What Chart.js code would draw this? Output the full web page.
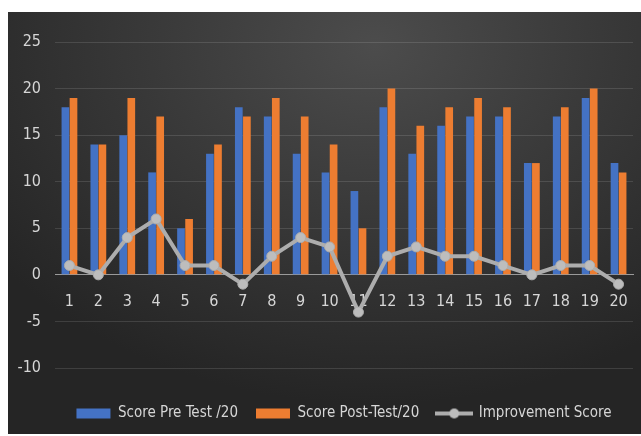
<!DOCTYPE html>
<html>
<head>
  <title>Score Pre / Post Test</title>
  <script src="https://cdn.jsdelivr.net/npm/chart.js"></script>
  <style>
    body { margin: 0; background: #fff; }
    #wrap {
      position: absolute; left: 8px; top: 12px; width: 633px; height: 422px;
      background: radial-gradient(ellipse 75% 85% at 58% 8%, #4c4c4c 0%, #3a3a3a 45%, #252525 100%);
    }
  </style>
</head>
<body>
  <div id="wrap"><canvas id="grafico"></canvas></div>

  <script>
    // dados
    const alunos = ['1','2','3','4','5','6','7','8','9','10','11','12','13','14','15','16','17','18','19','20'];
    const notaPre = [18, 14, 15, 11, 5, 13, 18, 17, 13, 11, 9, 18, 13, 16, 17, 17, 12, 17, 19, 12];
    const notaPos = [19, 14, 19, 17, 6, 14, 17, 19, 17, 14, 5, 20, 16, 18, 19, 18, 12, 18, 20, 11];
    const melhoria = [1, 0, 4, 6, 1, 1, -1, 2, 4, 3, -4, 2, 3, 2, 2, 1, 0, 1, 1, -1];
    const marcasY = [-10, -5, 0, 5, 10, 15, 20, 25];

    // fonte estreita (condensada)
    const fonte = "'DejaVu Sans Condensed', 'DejaVu Sans', sans-serif";
    const estilo = 'condensed';
    const corTexto = '#d6d6d6';
    const cinza = '#adadad';

    // ícone da legenda da linha (linha com marcador)
    const iconeLinha = document.createElement('canvas');
    iconeLinha.width = 38; iconeLinha.height = 12;
    const ic = iconeLinha.getContext('2d');
    ic.strokeStyle = cinza; ic.lineWidth = 4;
    ic.beginPath(); ic.moveTo(0, 6); ic.lineTo(38, 6); ic.stroke();
    ic.fillStyle = '#bdbdbd';
    ic.beginPath(); ic.arc(19, 6, 5, 0, Math.PI * 2); ic.fill();

    const ctx = document.getElementById('grafico').getContext('2d');
    new Chart(ctx, {
      data: {
        labels: alunos,
        datasets: [
          {
            type: 'line',
            label: 'Improvement Score',
            data: melhoria,
            borderColor: cinza,
            borderWidth: 4,
            pointRadius: 5,
            pointBackgroundColor: '#bdbdbd',
            pointBorderColor: cinza,
            pointBorderWidth: 1,
            tension: 0,
            order: 0,
          },
          {
            type: 'bar',
            label: 'Score Pre Test /20',
            data: notaPre,
            backgroundColor: '#4472c4',
            categoryPercentage: 0.56,
            barPercentage: 0.95,
            order: 1,
          },
          {
            type: 'bar',
            label: 'Score Post-Test/20',
            data: notaPos,
            backgroundColor: '#ed7d31',
            categoryPercentage: 0.56,
            barPercentage: 0.95,
            order: 1,
          },
        ],
      },
      options: {
        responsive: true,
        maintainAspectRatio: false,
        animation: false,
        layout: { padding: { top: 30, right: 8, bottom: 3, left: 0 } },
        scales: {
          x: {
            position: { y: 0 },
            grid: { display: false },
            border: { display: true, color: '#9a9a9a', width: 1 },
            ticks: { color: corTexto, font: { family: fonte, size: 16, style: estilo }, padding: 9 },
          },
          y: {
            min: -10,
            max: 25,
            afterBuildTicks: (eixo) => { eixo.ticks = marcasY.map(v => ({ value: v })); },
            afterFit: (eixo) => { eixo.width = 47; },
            grid: {
              color: (c) => c.tick && c.tick.value === 0 ? '#9a9a9a' : 'rgba(255,255,255,0.12)',
              drawTicks: false,
            },
            border: { display: false },
            ticks: { color: corTexto, font: { family: fonte, size: 16, style: estilo }, padding: 14 },
          },
        },
        plugins: {
          legend: {
            position: 'bottom',
            fullSize: false,
            // título vazio só para afastar a legenda do gráfico
            title: { display: true, text: ' ', font: { size: 10 }, padding: { top: 8, bottom: 0 } },
            labels: {
              color: corTexto,
              font: { family: fonte, size: 15, style: estilo },
              usePointStyle: true,
              pointStyleWidth: 34,
              boxHeight: 10,
              padding: 18,
              generateLabels: (chart) => {
                const itens = Chart.defaults.plugins.legend.labels.generateLabels(chart);
                itens.forEach(it => {
                  if (it.datasetIndex === 0) { it.pointStyle = iconeLinha; }
                  else { it.pointStyle = 'rect'; it.lineWidth = 0; }
                });
                // ordem: barras primeiro, depois a linha
                return [itens[1], itens[2], itens[0]];
              },
            },
          },
          tooltip: { enabled: false },
        },
      },
    });
  </script>
</body>
</html>
